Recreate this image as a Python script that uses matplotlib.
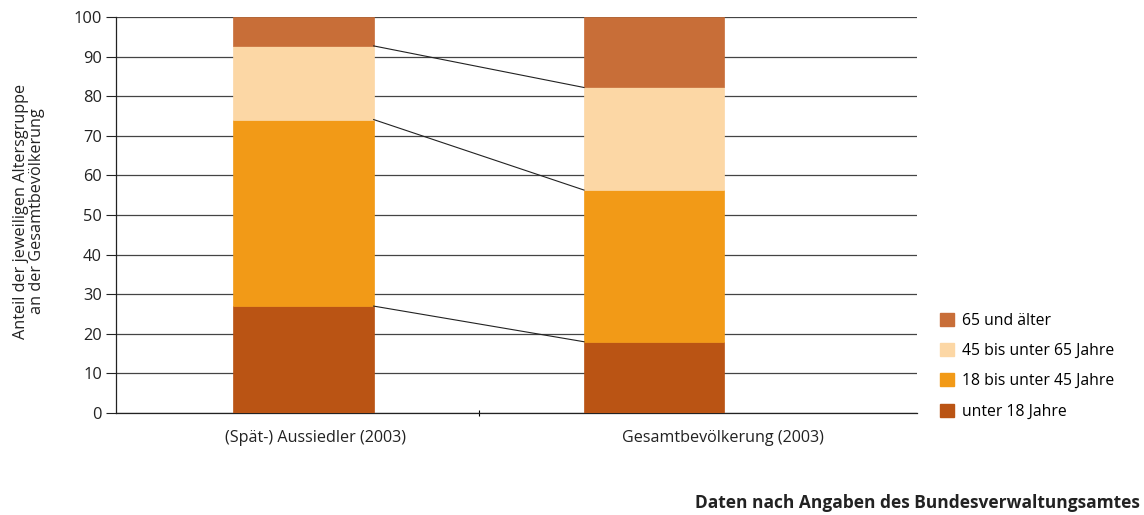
import matplotlib
matplotlib.use('agg')
import matplotlib.pyplot as plt
from matplotlib.patches import Patch

plt.rcParams['font.family'] = ['Open Sans', 'DejaVu Sans']

# Daten
kategorien = ['(Spät-) Aussiedler (2003)', 'Gesamtbevölkerung (2003)']
gruppen = ['unter 18 Jahre', '18 bis unter 45 Jahre', '45 bis unter 65 Jahre', '65 und älter']
unter_18 = [27.0, 18.0]
von_18_bis_45 = [47.1, 38.3]
von_45_bis_65 = [18.6, 25.9]
ab_65 = [7.3, 17.8]
farben = ['#BA5414', '#F29A17', '#FCD7A5', '#C86E38']

werte = [unter_18, von_18_bis_45, von_45_bis_65, ab_65]

fig = plt.figure(figsize=(11.44, 5.15), dpi=100)
ax = fig.add_axes([0.1014, 0.198, 0.7002, 0.769])

x = [0, 1]
breite = 0.40
unten = [0.0, 0.0]
grenzen = []
for serie, farbe, name in zip(werte, farben, gruppen):
    ax.bar(x, serie, breite, bottom=unten, color=farbe, label=name, zorder=3,
           edgecolor=farbe, linewidth=0.5)
    unten = [u + v for u, v in zip(unten, serie)]
    grenzen.append(list(unten))

# Verbindungslinien zwischen den Balken
for g in grenzen[:-1]:
    ax.plot([x[0] + breite / 2, x[1] - breite / 2], [g[0], g[1]],
            color='#222222', linewidth=0.8, zorder=4)

ax.set_xlim(-0.535, 1.75)
ax.set_ylim(0, 100)
ax.set_yticks(range(0, 101, 10))
ax.yaxis.grid(True, color='#444444', linewidth=0.9, zorder=0)
ax.set_axisbelow(True)

ax.set_xticks([0.5])
ax.set_xticklabels([''])
ax.tick_params(axis='x', length=4, direction='inout', width=0.8)
ax.tick_params(axis='y', length=7, width=0.8, labelsize=11.8, pad=3, colors='#222222')

for s in ['top', 'right']:
    ax.spines[s].set_visible(False)
for s in ['left', 'bottom']:
    ax.spines[s].set_color('#222222')
    ax.spines[s].set_linewidth(0.9)

# Kategoriebeschriftungen (im Original leicht versetzt)
for xi, name in zip([0.033, 1.197], kategorien):
    ax.text(xi, -4.3, name, ha='center', va='top', fontsize=11.6, color='#222222')

fig.text(0.0255, 0.590, 'Anteil der jeweiligen Altersgruppe\nan der Gesamtbevölkerung',
         rotation=90, ha='center', va='center', fontsize=11.7, color='#222222',
         linespacing=1.05)

handles = [Patch(color=f) for f in farben][::-1]
labels = gruppen[::-1]
fig.legend(handles, labels, loc='upper left', bbox_to_anchor=(0.8217, 0.393),
           frameon=False, fontsize=11.3, handlelength=0.9, handleheight=0.9,
           handletextpad=0.5, labelspacing=0.91, borderaxespad=0, borderpad=0)

fig.text(0.996, 0.0136, 'Daten nach Angaben des Bundesverwaltungsamtes',
         ha='right', va='baseline', fontsize=12.5, fontweight='bold', color='#222222')

plt.savefig('out.png', dpi=100)
